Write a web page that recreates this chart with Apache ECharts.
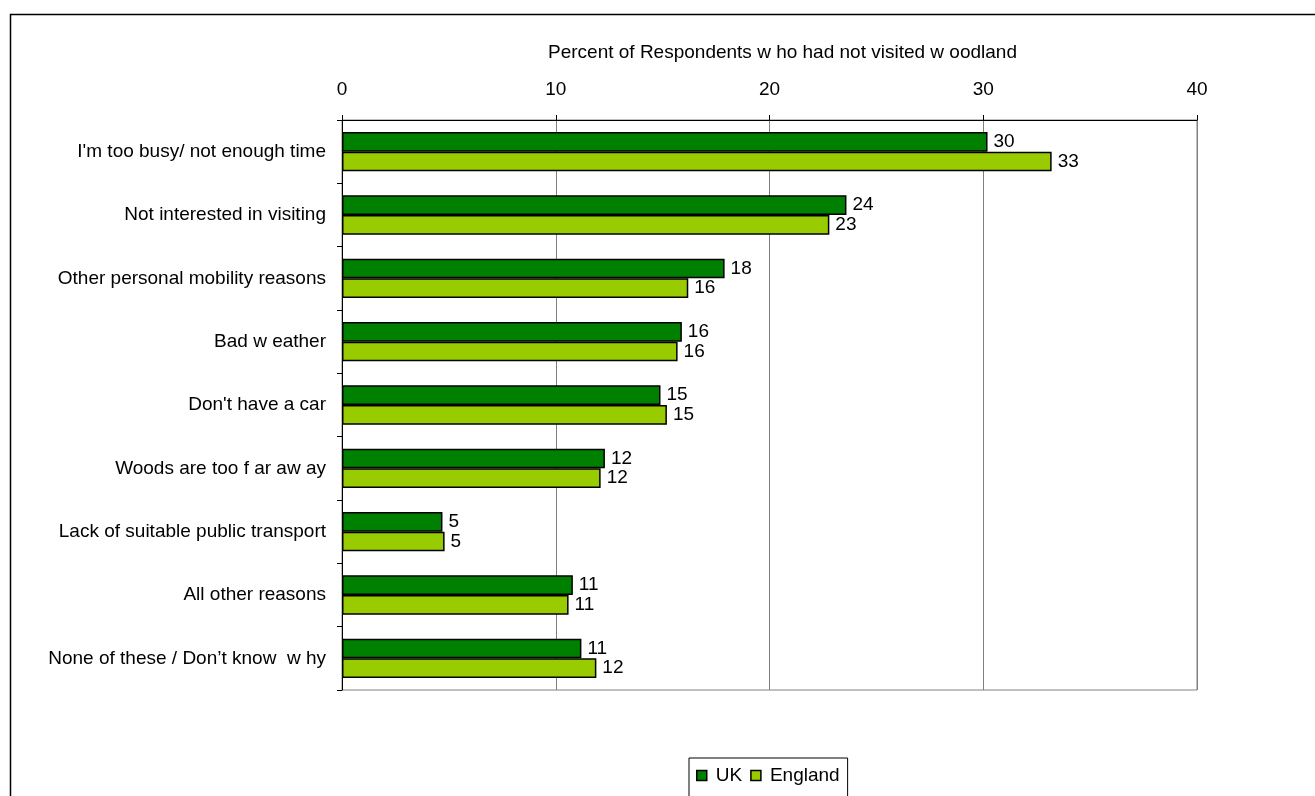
<!DOCTYPE html>
<html>
<head>
<meta charset="utf-8">
<title>Woodland visits</title>
<script src="https://cdn.jsdelivr.net/npm/echarts@6/dist/echarts.min.js"></script>
<style>
  html, body {
    margin: 0;
    padding: 0;
    background: #fff;
  }
  #chart {
    width: 1315px;
    height: 796px;
  }
</style>
</head>
<body>
<div id="chart"></div>
<script>
const categories = [
  "I'm too busy/ not enough time",
  'Not interested in visiting',
  'Other personal mobility reasons',
  'Bad w eather',
  "Don't have a car",
  'Woods are too f ar aw ay',
  'Lack of suitable public transport',
  'All other reasons',
  'None of these / Don\u2019t know  w hy'
];
const ukValues = [30.2, 23.6, 17.9, 15.9, 14.9, 12.3, 4.7, 10.8, 11.2];
const englandValues = [33.2, 22.8, 16.2, 15.7, 15.2, 12.1, 4.8, 10.6, 11.9];
const axisTicks = { min: 0, max: 40, interval: 10 };

const font = 'Liberation Sans, Arial, sans-serif';

const chart = echarts.init(document.getElementById('chart'));

function barSeries(name, data, color) {
  return {
    name: name,
    type: 'bar',
    data: data,
    barGap: '0%',
    barCategoryGap: '38%',
    itemStyle: {
      color: color,
      borderColor: '#000',
      borderWidth: 1.5
    },
    label: {
      show: true,
      position: 'right',
      distance: 6,
      color: '#000',
      fontFamily: font,
      fontSize: 19,
      formatter: p => Math.round(p.value)
    }
  };
}

chart.setOption({
  animation: false,
  backgroundColor: '#fff',
  textStyle: { fontFamily: font },
  graphic: [
    {
      type: 'rect',
      shape: { x: 10.5, y: 14.5, width: 1400, height: 1000 },
      style: { fill: 'none', stroke: '#000', lineWidth: 1.5 },
      z: -10
    }
  ],
  grid: {
    left: 342,
    top: 120,
    right: 118,
    bottom: 106,
    show: true,
    borderColor: '#808080',
    borderWidth: 1
  },
  legend: {
    left: 689,
    top: 758,
    padding: [8, 8, 40, 7],
    itemGap: 8,
    itemWidth: 10,
    itemHeight: 10,
    icon: 'rect',
    borderColor: '#000',
    borderWidth: 1,
    backgroundColor: '#fff',
    itemStyle: { borderColor: '#000', borderWidth: 1.5 },
    textStyle: { fontFamily: font, fontSize: 19, color: '#000', padding: [0, 0, 0, 4] },
    data: ['UK', 'England']
  },
  xAxis: {
    type: 'value',
    position: 'top',
    min: axisTicks.min,
    max: axisTicks.max,
    interval: axisTicks.interval,
    name: 'Percent of Respondents w ho had not visited w oodland',
    nameLocation: 'middle',
    nameGap: 58,
    nameTextStyle: { fontFamily: font, fontSize: 19, color: '#000', padding: [0, 0, 0, 26] },
    axisLine: { show: true, lineStyle: { color: '#000', width: 1 } },
    axisTick: { show: true, inside: false, length: 5, lineStyle: { color: '#000' } },
    axisLabel: { fontFamily: font, fontSize: 19, color: '#000', margin: 21 },
    splitLine: { show: true, lineStyle: { color: '#808080', width: 1 } }
  },
  yAxis: {
    type: 'category',
    inverse: true,
    data: categories,
    axisLine: { show: true, lineStyle: { color: '#000', width: 1 } },
    axisTick: { show: true, inside: false, length: 5, lineStyle: { color: '#000' } },
    axisLabel: { fontFamily: font, fontSize: 19, color: '#000', margin: 16 },
    splitLine: { show: false }
  },
  series: [
    barSeries('UK', ukValues, '#008000'),
    barSeries('England', englandValues, '#99cc00')
  ]
});
</script>
</body>
</html>
